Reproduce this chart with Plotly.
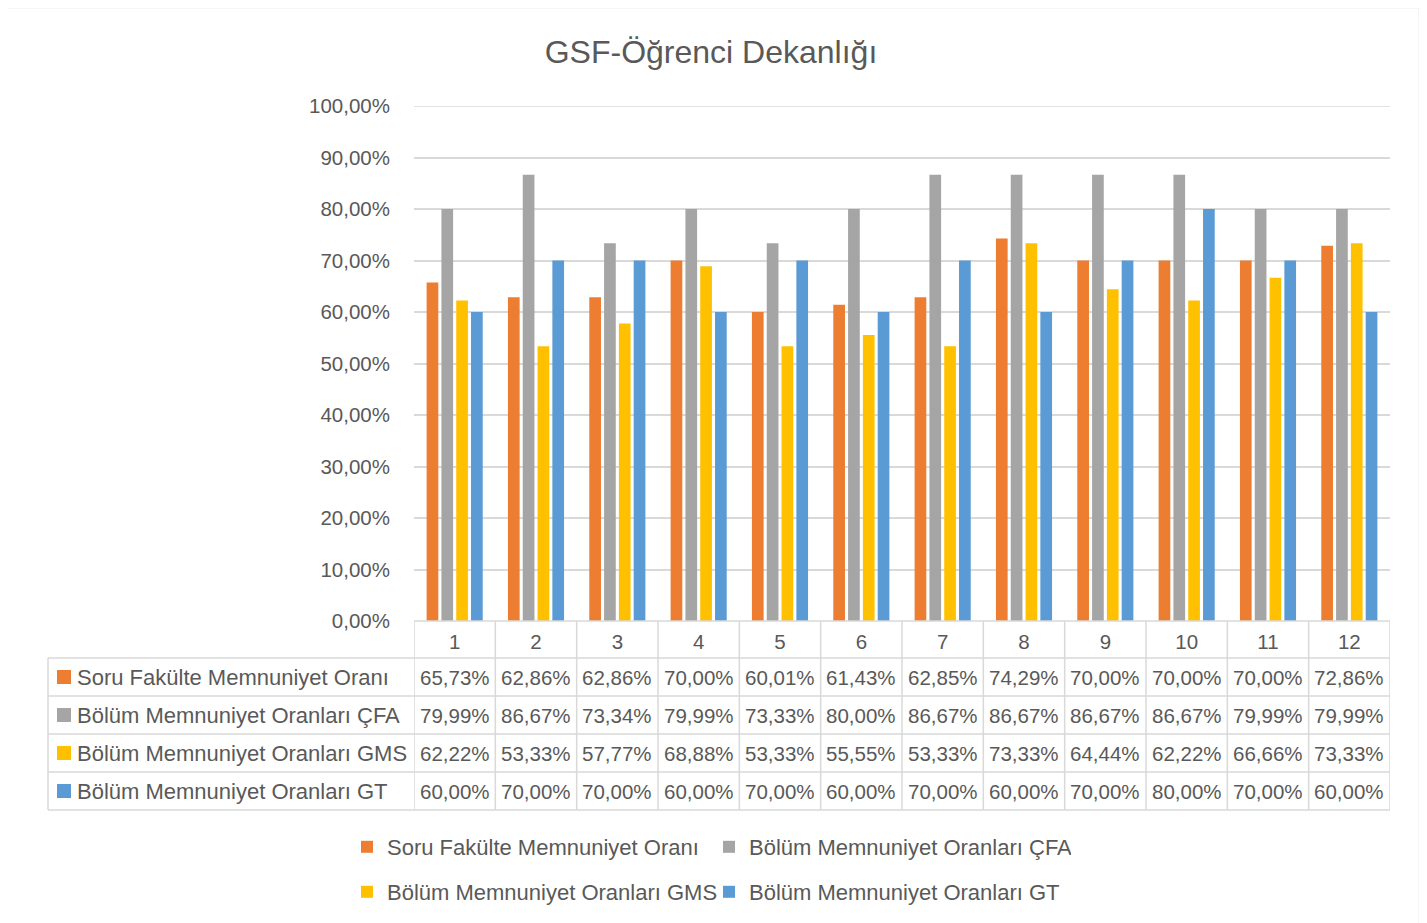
import plotly.graph_objects as go

categories = [1, 2, 3, 4, 5, 6, 7, 8, 9, 10, 11, 12]
series_names = [
    "Soru Fakülte Memnuniyet Oranı",
    "Bölüm Memnuniyet Oranları ÇFA",
    "Bölüm Memnuniyet Oranları GMS",
    "Bölüm Memnuniyet Oranları GT",
]
soru = [65.73, 62.86, 62.86, 70.00, 60.01, 61.43, 62.85, 74.29, 70.00, 70.00, 70.00, 72.86]
cfa = [79.99, 86.67, 73.34, 79.99, 73.33, 80.00, 86.67, 86.67, 86.67, 86.67, 79.99, 79.99]
gms = [62.22, 53.33, 57.77, 68.88, 53.33, 55.55, 53.33, 73.33, 64.44, 62.22, 66.66, 73.33]
gt = [60.00, 70.00, 70.00, 60.00, 70.00, 60.00, 70.00, 60.00, 70.00, 80.00, 70.00, 60.00]
series_values = [soru, cfa, gms, gt]
colors = ["#ED7D31", "#A5A5A5", "#FFC000", "#5B9BD5"]
title_text = "GSF-Öğrenci Dekanlığı"

# page offset of the figure inside the html body (default body margin)
OFF = 8
W, H = 1427, 923
# plot area in page pixels
PL, PT, PR, PB = 414, 106, 1390, 621
PW, PH = PR - PL, PB - PT
L, T = PL - OFF, PT - OFF
R, B = W - L - PW, H - T - PH
FONT = "Liberation Sans"
TXT = "#595959"
GRID = "#D9D9D9"


def px_x(p):
    return (p - PL) / PW


def px_y(p):
    return (PB - p) / PH


def fmt(v):
    return f"{v:.2f}%".replace(".", ",")


fig = go.Figure()
legends = ["legend", "legend", "legend2", "legend2"]
for name, vals, col, lg in zip(series_names, series_values, colors, legends):
    fig.add_trace(go.Bar(
        x=categories, y=vals, name=name, legend=lg,
        marker=dict(color=col, line=dict(width=0)),
        hovertemplate="%{x}: %{y:.2f}%<extra>" + name + "</extra>",
    ))

shapes = []
annotations = []

# top gridline (100%)
shapes.append(dict(type="line", xref="paper", yref="y", x0=0, x1=1, y0=100, y1=100,
                   line=dict(color=GRID, width=1.5), layer="below"))

# table geometry (page pixels)
header_top, header_bot = 621, 658
row_h = 38
n_rows = len(series_names)
table_left = 48
table_bottom = header_bot + n_rows * row_h
line = dict(color=GRID, width=1.5)

shapes.append(dict(type="line", xref="paper", yref="paper", x0=0, x1=1,
                   y0=px_y(header_top), y1=px_y(header_top), line=line))
for i in range(n_rows + 1):
    yy = px_y(header_bot + i * row_h)
    shapes.append(dict(type="line", xref="paper", yref="paper", x0=px_x(table_left), x1=1,
                       y0=yy, y1=yy, line=line))
shapes.append(dict(type="line", xref="paper", yref="paper", x0=px_x(table_left), x1=px_x(table_left),
                   y0=px_y(header_bot), y1=px_y(table_bottom), line=line))
for k in range(len(categories) + 1):
    xx = categories[0] - 0.5 + k
    shapes.append(dict(type="line", xref="x", yref="paper", x0=xx, x1=xx,
                       y0=px_y(header_top), y1=px_y(table_bottom), line=line))

for i, (name, vals, col) in enumerate(zip(series_names, series_values, colors)):
    yc = header_bot + i * row_h + row_h / 2
    shapes.append(dict(type="rect", xref="paper", yref="paper",
                       x0=px_x(57), x1=px_x(71), y0=px_y(yc - 7), y1=px_y(yc + 7),
                       fillcolor=col, line=dict(width=0)))
    annotations.append(dict(text=name, xref="paper", yref="paper", x=px_x(75), y=px_y(yc),
                            xanchor="left", yanchor="middle", showarrow=False,
                            font=dict(family=FONT, size=22, color=TXT)))
    for c, v in zip(categories, vals):
        annotations.append(dict(text=fmt(v), xref="x", yref="paper", x=c, y=px_y(yc),
                                xanchor="center", yanchor="middle", showarrow=False,
                                font=dict(family=FONT, size=20.5, color=TXT)))

# outer chart border
shapes.append(dict(type="rect", xref="paper", yref="paper",
                   x0=px_x(2.5), x1=px_x(1419.5), y0=px_y(935), y1=px_y(7.5),
                   line=dict(color=GRID, width=1.5), fillcolor="rgba(0,0,0,0)"))

fig.update_layout(
    width=W, height=H,
    margin=dict(l=L, r=R, t=T, b=B),
    paper_bgcolor="white", plot_bgcolor="white",
    separators=", ",
    font=dict(family=FONT, size=20, color=TXT),
    title=dict(text=title_text, x=(711 - OFF) / W, xanchor="center", xref="container",
               y=1 - (52 - OFF) / H, yanchor="middle", yref="container",
               font=dict(family=FONT, size=32, color=TXT)),
    barmode="group", bargap=0.272, bargroupgap=0.21,
    xaxis=dict(range=[0.5, 12.5], tickmode="array", tickvals=categories,
               ticktext=[str(c) for c in categories], showgrid=False, zeroline=False,
               showline=False, ticks="", ticklabelstandoff=6,
               tickfont=dict(family=FONT, size=20.5, color=TXT)),
    yaxis=dict(range=[0, 100], dtick=10, tick0=0, tickformat=".2f", ticksuffix="%",
               showgrid=True, gridcolor=GRID, gridwidth=1.5, zeroline=False, showline=False,
               ticks="", ticklabelstandoff=23,
               tickfont=dict(family=FONT, size=20.5, color=TXT)),
    legend=dict(orientation="h", x=px_x(347), xanchor="left", y=px_y(847), yanchor="middle",
                entrywidth=317, font=dict(family=FONT, size=22, color=TXT),
                bgcolor="rgba(0,0,0,0)"),
    legend2=dict(orientation="h", x=px_x(347), xanchor="left", y=px_y(892), yanchor="middle",
                 entrywidth=317, font=dict(family=FONT, size=22, color=TXT),
                 bgcolor="rgba(0,0,0,0)"),
    shapes=shapes,
    annotations=annotations,
    showlegend=True,
)

fig.write_html("out.html")
